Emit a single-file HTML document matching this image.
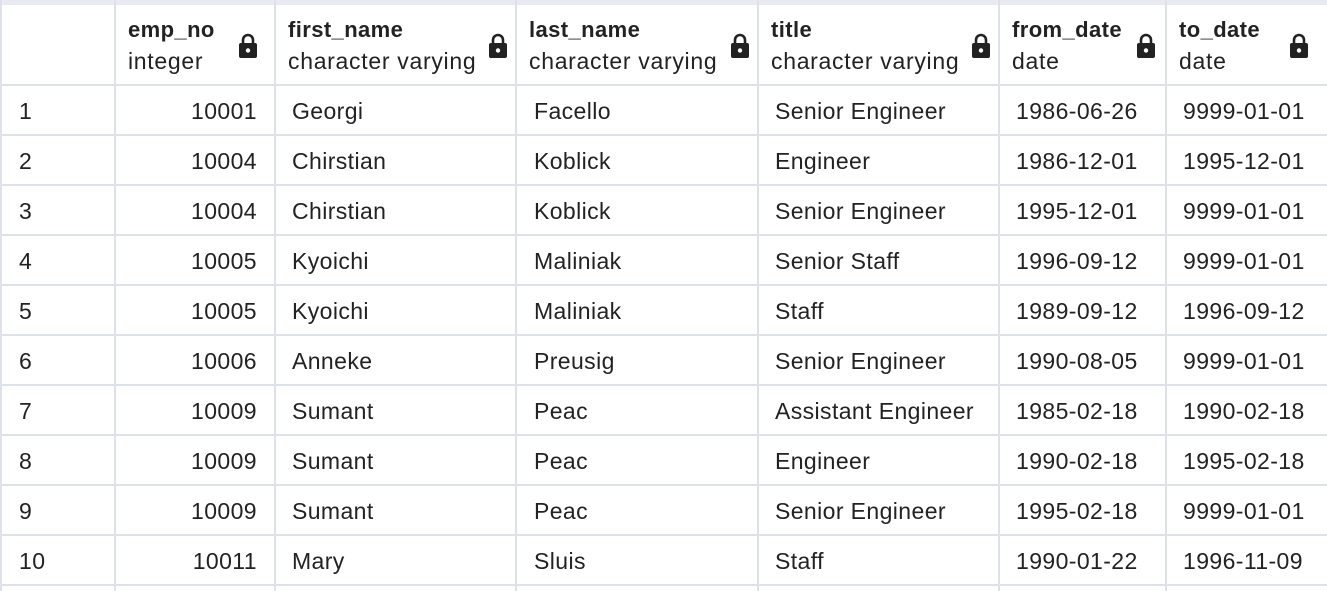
<!DOCTYPE html>
<html><head><style>
body{margin:0;width:1327px;height:591px;background:#fff;position:relative;overflow:hidden;font-family:"Liberation Sans",Arial,sans-serif;color:#222;}
.t{position:absolute;font-size:23px;letter-spacing:0.4px;white-space:nowrap;line-height:24px;}
.h{font-weight:bold;font-size:22px;letter-spacing:0.4px;}
.s{font-size:23px;letter-spacing:0.7px;}
.v{position:absolute;top:0;width:2px;height:591px;background:#dee1e8;}
.hl{position:absolute;left:0;width:1327px;height:2px;background:#dee1e8;}
svg.l{position:absolute;width:20px;height:26px;}
</style></head><body>
<div style="position:absolute;left:0;top:0;width:1327px;height:5px;background:#e8eaef"></div>
<div class="v" style="left:0"></div>
<div class="v" style="left:114px"></div>
<div class="v" style="left:274px"></div>
<div class="v" style="left:515px"></div>
<div class="v" style="left:757px"></div>
<div class="v" style="left:998px"></div>
<div class="v" style="left:1165px"></div>
<div class="hl" style="top:84px"></div>
<div class="hl" style="top:134px"></div>
<div class="hl" style="top:184px"></div>
<div class="hl" style="top:234px"></div>
<div class="hl" style="top:284px"></div>
<div class="hl" style="top:334px"></div>
<div class="hl" style="top:384px"></div>
<div class="hl" style="top:434px"></div>
<div class="hl" style="top:484px"></div>
<div class="hl" style="top:534px"></div>
<div class="hl" style="top:584px"></div>

<div class="t h" style="left:128px;top:18px">emp_no</div><div class="t s" style="left:128px;top:49px">integer</div>
<div class="t h" style="left:288px;top:18px">first_name</div><div class="t s" style="left:288px;top:49px">character varying</div>
<div class="t h" style="left:529px;top:18px">last_name</div><div class="t s" style="left:529px;top:49px">character varying</div>
<div class="t h" style="left:771px;top:18px">title</div><div class="t s" style="left:771px;top:49px">character varying</div>
<div class="t h" style="left:1012px;top:18px">from_date</div><div class="t s" style="left:1012px;top:49px">date</div>
<div class="t h" style="left:1179px;top:18px">to_date</div><div class="t s" style="left:1179px;top:49px">date</div>

<svg class="l" style="left:238px;top:33px" viewBox="0 0 20 26"><path d="M5 11V7a5 5 0 0 1 10 0v4" fill="none" stroke="#222" stroke-width="2.6"/><rect x="1" y="10" width="18" height="15" rx="2" fill="#222"/><circle cx="10" cy="17.5" r="2.2" fill="#fff"/></svg>
<svg class="l" style="left:488px;top:33px" viewBox="0 0 20 26"><path d="M5 11V7a5 5 0 0 1 10 0v4" fill="none" stroke="#222" stroke-width="2.6"/><rect x="1" y="10" width="18" height="15" rx="2" fill="#222"/><circle cx="10" cy="17.5" r="2.2" fill="#fff"/></svg>
<svg class="l" style="left:730px;top:33px" viewBox="0 0 20 26"><path d="M5 11V7a5 5 0 0 1 10 0v4" fill="none" stroke="#222" stroke-width="2.6"/><rect x="1" y="10" width="18" height="15" rx="2" fill="#222"/><circle cx="10" cy="17.5" r="2.2" fill="#fff"/></svg>
<svg class="l" style="left:971px;top:33px" viewBox="0 0 20 26"><path d="M5 11V7a5 5 0 0 1 10 0v4" fill="none" stroke="#222" stroke-width="2.6"/><rect x="1" y="10" width="18" height="15" rx="2" fill="#222"/><circle cx="10" cy="17.5" r="2.2" fill="#fff"/></svg>
<svg class="l" style="left:1136px;top:33px" viewBox="0 0 20 26"><path d="M5 11V7a5 5 0 0 1 10 0v4" fill="none" stroke="#222" stroke-width="2.6"/><rect x="1" y="10" width="18" height="15" rx="2" fill="#222"/><circle cx="10" cy="17.5" r="2.2" fill="#fff"/></svg>
<svg class="l" style="left:1289px;top:33px" viewBox="0 0 20 26"><path d="M5 11V7a5 5 0 0 1 10 0v4" fill="none" stroke="#222" stroke-width="2.6"/><rect x="1" y="10" width="18" height="15" rx="2" fill="#222"/><circle cx="10" cy="17.5" r="2.2" fill="#fff"/></svg>

<div id="rows"></div>
<script>
var d=[["10001","Georgi","Facello","Senior Engineer","1986-06-26","9999-01-01"],
["10004","Chirstian","Koblick","Engineer","1986-12-01","1995-12-01"],
["10004","Chirstian","Koblick","Senior Engineer","1995-12-01","9999-01-01"],
["10005","Kyoichi","Maliniak","Senior Staff","1996-09-12","9999-01-01"],
["10005","Kyoichi","Maliniak","Staff","1989-09-12","1996-09-12"],
["10006","Anneke","Preusig","Senior Engineer","1990-08-05","9999-01-01"],
["10009","Sumant","Peac","Assistant Engineer","1985-02-18","1990-02-18"],
["10009","Sumant","Peac","Engineer","1990-02-18","1995-02-18"],
["10009","Sumant","Peac","Senior Engineer","1995-02-18","9999-01-01"],
["10011","Mary","Sluis","Staff","1990-01-22","1996-11-09"]];
var h="";
d.forEach(function(r,i){var y=99+i*50;
h+='<div class="t" style="left:19px;top:'+y+'px">'+(i+1)+'</div>';
h+='<div class="t" style="right:1070px;top:'+y+'px">'+r[0]+'</div>';
h+='<div class="t" style="left:292px;top:'+y+'px">'+r[1]+'</div>';
h+='<div class="t" style="left:534px;top:'+y+'px">'+r[2]+'</div>';
h+='<div class="t" style="left:775px;top:'+y+'px">'+r[3]+'</div>';
h+='<div class="t" style="left:1016px;top:'+y+'px">'+r[4]+'</div>';
h+='<div class="t" style="left:1183px;top:'+y+'px">'+r[5]+'</div>';});
document.getElementById("rows").innerHTML=h;
</script>
</body></html>
